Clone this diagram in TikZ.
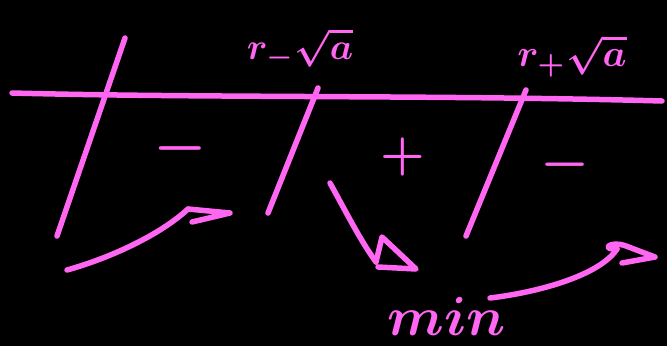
\documentclass[tikz,border=0pt]{standalone}
\usepackage{amsmath}
\begin{document}
\begin{tikzpicture}[x=1pt,y=-1pt,
  ink/.style={draw=pinkink,line width=5.5pt,line cap=round,line join=round},
  lbl/.style={text=pinkink,inner sep=0pt,font=\boldmath},
  sgn/.style={text=pinkink,inner sep=0pt,font=\boldmath}]
\definecolor{pinkink}{RGB}{255,102,242}
\fill[black] (0,0) rectangle (667,346);
\useasboundingbox (0,0) rectangle (667,346);
% axis
\coordinate (axL) at (12,93);
\coordinate (axR) at (662,101);
\draw[ink] (axL) .. controls (200,98) and (450,95) .. (axR);
% slanted ticks
\coordinate (t1a) at (125,38);  \coordinate (t1b) at (57,236);
\coordinate (t2a) at (318,88);  \coordinate (t2b) at (268,213);
\coordinate (t3a) at (526,90);  \coordinate (t3b) at (466,236);
\draw[ink] (t1a) -- (t1b);
\draw[ink] (t2a) -- (t2b);
\draw[ink] (t3a) -- (t3b);
% signs
\node[sgn,scale=6] (s1) at (180,148) {$-$};
\node[sgn,scale=5] (s2) at (403,157) {$+$};
\node[sgn,scale=5.5] (s3) at (565,165) {$-$};
% labels
\node[lbl,scale=3.7,anchor=south] (l1) at (300,70) {$r_-\sqrt{a}$};
\node[lbl,scale=3.8,anchor=south] (l2) at (572,78) {$r_+\sqrt{a}$};
\node[lbl,scale=5.5] (l3) at (447,316) {$min$};
% arrow 1
\coordinate (a1s) at (67,270);
\coordinate (a1e) at (188,209);
\draw[ink] (a1s) .. controls (110,258) and (160,235) .. (a1e);
\draw[ink] (a1e) -- (230,213) -- (192,222);
% arrow 2
\coordinate (a2s) at (330,183);
\coordinate (a2e) at (376,262);
\draw[ink] (a2s) .. controls (345,210) and (360,240) .. (a2e);
\draw[ink] (a2e) -- (382,237) -- (416,269) -- (378,267);
% arrow 3
\coordinate (a3s) at (490,298);
\coordinate (a3e) at (617,249);
\draw[ink] (a3s) .. controls (540,292) and (600,275) .. (a3e);
\draw[ink] (a3e) .. controls (600,250) and (610,240) .. (626,246) -- (655,257) -- (622,263);
\end{tikzpicture}
\end{document}
